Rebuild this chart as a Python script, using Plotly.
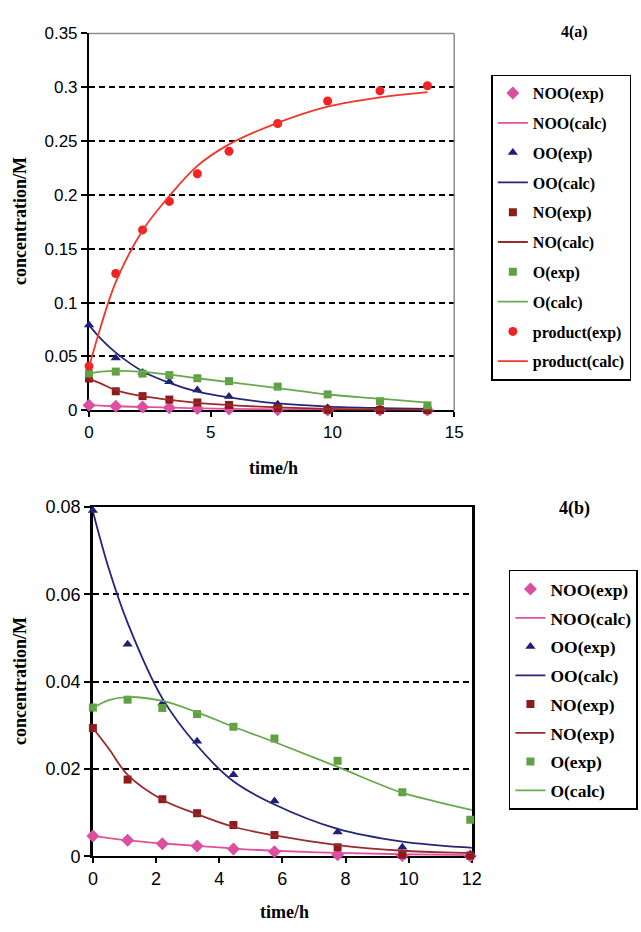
import plotly.graph_objects as go

# ---------------- data ----------------
t_exp = [0, 1.1, 2.2, 3.3, 4.45, 5.75, 7.75, 9.8, 11.95, 13.9]
noo_exp = [0.0047, 0.0037, 0.0029, 0.0024, 0.0017, 0.0011, 0.0004, 0.0002, 0.0001, 0.0001]
oo_exp = [0.0792, 0.0486, 0.0351, 0.0264, 0.0187, 0.0127, 0.0056, 0.0021, 0.0004, 0.0002]
no_exp = [0.0294, 0.0176, 0.0131, 0.0099, 0.0072, 0.0049, 0.0021, 0.0004, 0.0002, 0.0001]
o_exp = [0.0341, 0.0359, 0.0340, 0.0326, 0.0297, 0.0270, 0.0219, 0.0147, 0.0084, 0.0045]
prod_exp = [0.041, 0.127, 0.1675, 0.194, 0.2197, 0.2406, 0.2664, 0.2873, 0.2967, 0.3015]

t_calc = [0, 0.5, 1.1, 2.2, 3.3, 4.45, 5.75, 7.75, 9.8, 11.95, 13.9]
noo_calc = [0.0047, 0.0042, 0.0037, 0.0030, 0.0024, 0.0018, 0.0013, 0.0008, 0.0005, 0.0003, 0.0002]
oo_calc = [0.079, 0.066, 0.0535, 0.0362, 0.0254, 0.0172, 0.0119, 0.0063, 0.0034, 0.0020, 0.0013]
no_calc = [0.0294, 0.0247, 0.0187, 0.0130, 0.0097, 0.0068, 0.0048, 0.0026, 0.0013, 0.0008, 0.0005]
o_calc = [0.0340, 0.0358, 0.0365, 0.0356, 0.0330, 0.0297, 0.0262, 0.0205, 0.0146, 0.0107, 0.0070]
prod_calc = [0.040, 0.079, 0.119, 0.167, 0.199, 0.227, 0.247, 0.267, 0.282, 0.2906, 0.2955]

names_a = ["NOO(exp)", "NOO(calc)", "OO(exp)", "OO(calc)", "NO(exp)", "NO(calc)",
           "O(exp)", "O(calc)", "product(exp)", "product(calc)"]
names_b = ["NOO(exp)", "NOO(calc)", "OO(exp)", "OO(calc)", "NO(exp)", "NO(exp)",
           "O(exp)", "O(calc)"]

x_ticks_a = [0, 5, 10, 15]
y_ticks_a = [0, 0.05, 0.1, 0.15, 0.2, 0.25, 0.3, 0.35]
y_text_a = ["0", "0.05", "0.1", "0.15", "0.2", "0.25", "0.3", "0.35"]
x_ticks_b = [0, 2, 4, 6, 8, 10, 12]
y_ticks_b = [0, 0.02, 0.04, 0.06, 0.08]
y_text_b = ["0", "0.02", "0.04", "0.06", "0.08"]

# ---------------- styles ----------------
styles = [
    dict(sym="diamond", size=10, mcol="#DA4FA0", lcol="#E0509F"),
    dict(sym="triangle-up", size=9, mcol="#1F1F78", lcol="#25257A"),
    dict(sym="square", size=8, mcol="#8E1B1B", lcol="#9B2A2A"),
    dict(sym="square", size=8, mcol="#5FA043", lcol="#6AA84F"),
    dict(sym="circle", size=9, mcol="#F02222", lcol="#F3342A"),
]
exp_sets = [noo_exp, oo_exp, no_exp, o_exp, prod_exp]
calc_sets = [noo_calc, oo_calc, no_calc, o_calc, prod_calc]

W, H = 641, 932
def fx(px):
    return px / W
def fy(py):
    return 1 - py / H

fig = go.Figure()

def add_panel(nspecies, names, xa, ya, leg, prefix):
    k = 0
    for i in range(nspecies):
        st = styles[i]
        fig.add_trace(go.Scatter(
            x=t_exp, y=exp_sets[i], mode="markers", name=names[2 * i],
            marker=dict(symbol=st["sym"], size=st["size"], color=st["mcol"]),
            xaxis=xa, yaxis=ya, legend=leg, legendgroup=f"{prefix}{k}",
            cliponaxis=False))
        k += 1
        fig.add_trace(go.Scatter(
            x=t_calc, y=calc_sets[i], mode="lines", name=names[2 * i + 1],
            line=dict(color=st["lcol"], width=1.8, shape="spline", smoothing=1.0),
            xaxis=xa, yaxis=ya, legend=leg, legendgroup=f"{prefix}{k}"))
        k += 1

add_panel(5, names_a, "x", "y", "legend", "a")
add_panel(4, names_b, "x2", "y2", "legend2", "b")

tick_font_a = dict(family="Liberation Sans, Arial", size=17, color="black")
tick_font_b = dict(family="Liberation Sans, Arial", size=18, color="black")
serif_b = "Liberation Serif, Times New Roman"

common_x = dict(showgrid=False, zeroline=False, showline=True, linecolor="black",
                ticks="outside", ticklen=5, tickwidth=1.5, tickcolor="black",
                layer="below traces")
common_y = dict(showgrid=True, gridcolor="black", gridwidth=1.5, griddash="6px,4px",
                zeroline=False, showline=True, linecolor="black",
                ticks="outside", ticklen=6, tickwidth=1.5, tickcolor="black",
                layer="below traces")

fig.update_layout(
    width=W, height=H, margin=dict(l=0, r=0, t=0, b=0),
    paper_bgcolor="white", plot_bgcolor="white",
    showlegend=True,
    xaxis=dict(domain=[fx(86), fx(460)], range=[0, 15], tickvals=x_ticks_a,
               anchor="y", linewidth=2, tickfont=tick_font_a, **common_x),
    yaxis=dict(domain=[fy(409), fy(24)], range=[0, 0.35], tickvals=y_ticks_a,
               ticktext=y_text_a, anchor="x", linewidth=2, tickfont=tick_font_a,
               **common_y),
    xaxis2=dict(domain=[fx(90), fx(478)], range=[0, 12], tickvals=x_ticks_b,
                anchor="y2", linewidth=2, mirror=True, tickfont=tick_font_b, **common_x),
    yaxis2=dict(domain=[fy(865), fy(508)], range=[0, 0.08], tickvals=y_ticks_b,
                ticktext=y_text_b, anchor="x2", linewidth=2.5, mirror=True,
                tickfont=tick_font_b, **common_y),
    legend=dict(x=fx(498), y=fy(66), xanchor="left", yanchor="top",
                bordercolor="black", borderwidth=1.5, bgcolor="white",
                font=dict(family=serif_b, size=16, color="black", weight="bold"),
                traceorder="grouped", tracegroupgap=6, itemwidth=30),
    legend2=dict(x=fx(516), y=fy(572), xanchor="left", yanchor="top",
                 bordercolor="black", borderwidth=1.5, bgcolor="white",
                 font=dict(family=serif_b, size=17.5, color="black", weight="bold"),
                 traceorder="grouped", tracegroupgap=3, itemwidth=30),
    shapes=[
        dict(type="line", xref="x domain", yref="y domain", x0=0, x1=1, y0=1, y1=1,
             line=dict(color="#8C8C8C", width=1.5)),
        dict(type="line", xref="x domain", yref="y domain", x0=1, x1=1, y0=0, y1=1,
             line=dict(color="#8C8C8C", width=1.5)),
    ],
)

ann = [
    dict(text="4(a)", x=fx(583), y=fy(22), size=16),
    dict(text="4(b)", x=fx(583), y=fy(509), size=18),
    dict(text="time/h", x=fx(275), y=fy(468), size=18),
    dict(text="time/h", x=fx(286), y=fy(922), size=18),
    dict(text="concentration/M", x=fx(16), y=fy(216), size=18, angle=-90),
    dict(text="concentration/M", x=fx(16), y=fy(686), size=18, angle=-90),
]
for a in ann:
    fig.add_annotation(text=f"<b>{a['text']}</b>", x=a["x"], y=a["y"], xref="paper",
                       yref="paper", showarrow=False, xanchor="center", yanchor="middle",
                       textangle=a.get("angle", 0),
                       font=dict(family=serif_b, size=a["size"], color="black"))

fig.write_html("out.html")
